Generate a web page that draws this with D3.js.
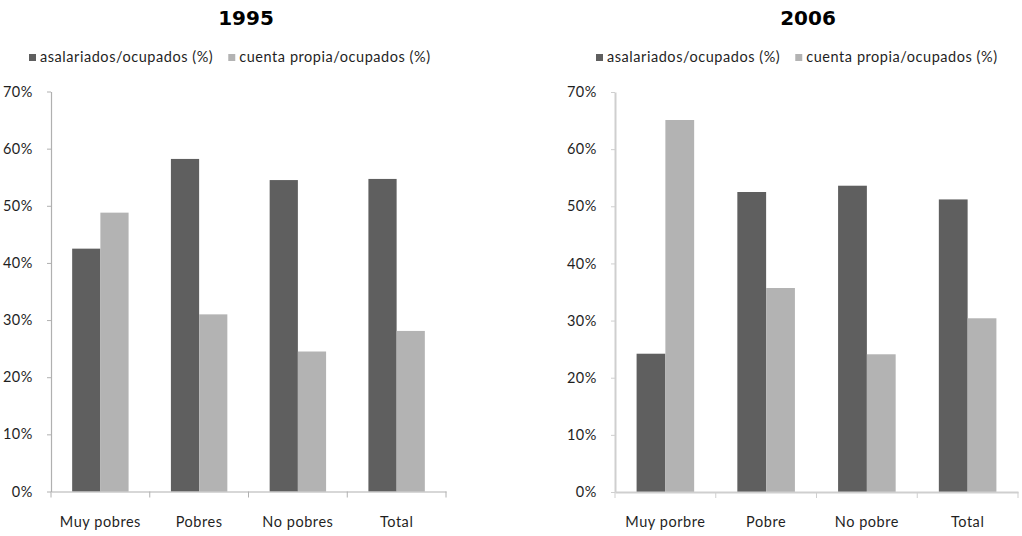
<!DOCTYPE html>
<html>
<head>
<meta charset="utf-8">
<script src="https://cdn.jsdelivr.net/npm/d3@7/dist/d3.min.js"></script>
<style>
  html, body { margin: 0; padding: 0; background: #fff; }
  svg { display: block; }
  text { font-family: Lato, "Open Sans", sans-serif; fill: #1f1f1f; letter-spacing: 0.55px; }
</style>
</head>
<body>
<svg id="chart" width="1022" height="536"></svg>
<script>
// ---- data ----
const titles = ["1995", "2006"];
const seriesNames = ["asalariados/ocupados (%)", "cuenta propia/ocupados (%)"];
const categories1995 = ["Muy pobres", "Pobres", "No pobres", "Total"];
const categories2006 = ["Muy porbre", "Pobre", "No pobre", "Total"];
const asalariados1995 = [42.5, 58.2, 54.5, 54.7];
const cuentaPropia1995 = [48.8, 31.0, 24.5, 28.1];
const asalariados2006 = [24.2, 52.5, 53.6, 51.2];
const cuentaPropia2006 = [65.1, 35.7, 24.1, 30.4];
const yTicks = [0, 10, 20, 30, 40, 50, 60, 70];
const seriesColors = ["#5f5f5f", "#b3b3b3"];

const svg = d3.select("#chart");

const panels = [
  { title: titles[0], cats: categories1995, series: [asalariados1995, cuentaPropia1995],
    left: 51, right: 446, top: 91.5, bottom: 491.5, titleX: 246, legendX: 29, axisColor: "#b0b0b0", axisWidth: 1.2 },
  { title: titles[1], cats: categories2006, series: [asalariados2006, cuentaPropia2006],
    left: 615, right: 1018, top: 92, bottom: 492, titleX: 808, legendX: 596, axisColor: "#cfcfcf", axisWidth: 2 }
];

const fontSize = "14.5px";

panels.forEach(p => {
  const g = svg.append("g");

  // title
  g.append("text")
    .attr("x", p.titleX).attr("y", 25)
    .attr("text-anchor", "middle")
    .style("font-family", "'DejaVu Sans', sans-serif")
    .style("font-weight", "bold")
    .style("font-size", "20px")
    .style("letter-spacing", "0px")
    .style("fill", "#000")
    .text(p.title);

  // legend
  let lx = p.legendX;
  seriesNames.forEach((name, i) => {
    g.append("rect").attr("x", lx).attr("y", 54).attr("width", 7).attr("height", 7)
      .attr("fill", seriesColors[i]);
    const t = g.append("text").attr("x", lx + 11).attr("y", 62)
      .style("font-size", fontSize).text(name);
    lx += 11 + t.node().getComputedTextLength() + 15;
  });

  const x = d3.scaleBand().domain(p.cats).range([p.left, p.right]).paddingInner(0).paddingOuter(0);
  const xs = d3.scaleBand().domain(d3.range(p.series.length)).range([0, x.bandwidth()])
    .paddingInner(0).paddingOuter(0.75);
  const y = d3.scaleLinear().domain([0, 70]).range([p.bottom, p.top]);

  // bars
  p.series.forEach((vals, si) => {
    g.selectAll(null).data(vals).enter().append("rect")
      .attr("x", (d, i) => x(p.cats[i]) + xs(si))
      .attr("width", xs.bandwidth())
      .attr("y", d => y(d))
      .attr("height", d => y(0) - y(d))
      .attr("fill", seriesColors[si]);
  });

  // y axis
  const yAxis = d3.axisLeft(y).tickValues(yTicks).tickFormat(d => d + "%")
    .tickSize(4).tickPadding(14).tickSizeOuter(0);
  const ya = g.append("g").attr("transform", `translate(${p.left},0)`).call(yAxis);
  ya.select(".domain").attr("stroke", p.axisColor).attr("stroke-width", p.axisWidth);
  ya.selectAll(".tick line").attr("stroke", p.axisColor);
  ya.selectAll(".tick text").style("font-size", fontSize).style("font-family", "Lato, sans-serif").attr("fill", "#1f1f1f");

  // x axis (labels)
  const xAxis = d3.axisBottom(x).tickSize(0).tickPadding(25).tickSizeOuter(0);
  const xa = g.append("g").attr("transform", `translate(0,${p.bottom})`).call(xAxis);
  xa.select(".domain").attr("stroke", p.axisColor).attr("stroke-width", p.axisWidth);
  xa.selectAll(".tick text").style("font-size", fontSize).style("font-family", "Lato, sans-serif").attr("fill", "#1f1f1f");

  // x boundary ticks
  const bounds = p.cats.map(c => x(c)).concat([x(p.cats[p.cats.length - 1]) + x.bandwidth()]);
  g.selectAll(null).data(bounds).enter().append("line")
    .attr("x1", d => d).attr("x2", d => d)
    .attr("y1", p.bottom).attr("y2", p.bottom + 6)
    .attr("stroke", p.axisColor).attr("stroke-width", 1);
});
</script>
</body>
</html>
